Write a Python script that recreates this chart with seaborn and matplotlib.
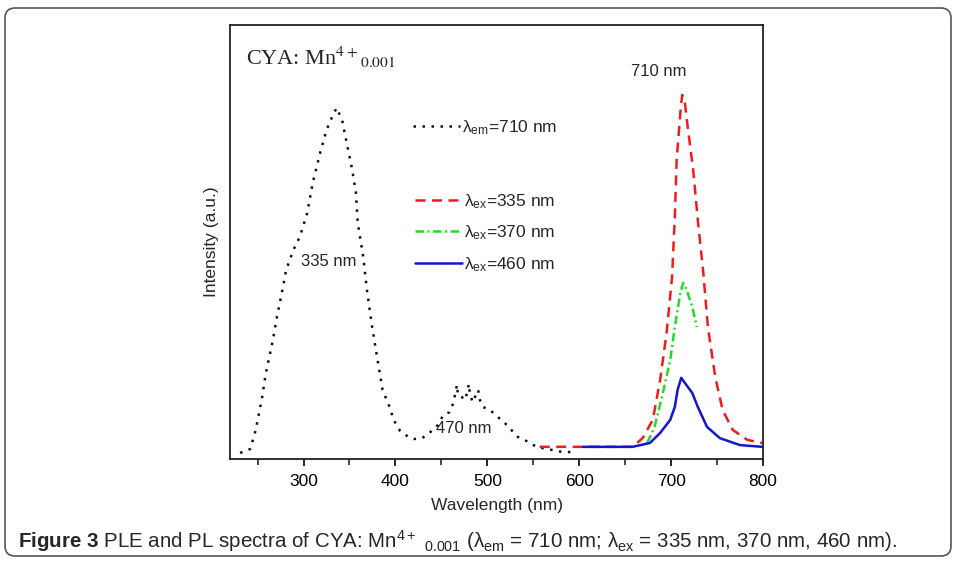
import pandas as pd
import matplotlib.pyplot as plt
import seaborn as sns
from matplotlib.lines import Line2D
from matplotlib.patches import FancyBboxPatch
from matplotlib.transforms import IdentityTransform

# PLE spectrum (lambda_em = 710 nm)
ple_wl = [231, 242, 248, 255, 259, 266, 271, 277, 281, 289, 296, 304, 310, 318, 325,
          331, 336, 342, 347, 353, 357, 359, 365, 369, 374, 380, 386, 394, 398, 405,
          414, 420, 429, 438, 446, 452, 459, 463, 467, 468, 472, 476, 480, 481, 484,
          490, 492, 495, 503, 509, 519, 527, 533, 543, 550, 560, 570, 582, 592]
ple_int = [1.4, 2.3, 6.7, 14.3, 19.8, 26.7, 32.7, 38.9, 43.5, 48.2, 51.2, 56.7, 63.6, 70.5, 75.8,
           78.8, 80.9, 78.1, 72.8, 66.6, 61.3, 54.4, 46.5, 38.9, 31.3, 23.5, 15.9, 11.8, 9.0, 6.5,
           5.1, 4.6, 4.8, 6.2, 7.8, 10.1, 10.8, 12.9, 17.1, 14.7, 14.3, 13.6, 17.3, 15.0, 13.1,
           15.9, 13.6, 12.0, 11.3, 10.1, 8.3, 6.5, 5.1, 4.1, 3.2, 2.5, 2.1, 1.6, 1.6]

# PL spectra
ex335_wl = [557, 600, 640, 658, 669, 680, 688, 695, 701, 704, 706, 710, 712, 715, 718,
            724, 729, 735, 740, 748, 756, 767, 783, 799]
ex335_int = [2.8, 2.8, 2.8, 2.8, 4.8, 9.0, 18.2, 29.0, 41.9, 55.8, 68.9, 79.7, 83.9, 82.0, 76.5,
             66.6, 55.1, 42.9, 30.4, 18.9, 11.3, 6.7, 4.4, 3.7]

ex370_wl = [674, 682, 691, 699, 704, 710, 713, 717, 723, 728]
ex370_int = [3.7, 7.4, 15.2, 22.8, 30.4, 38.2, 40.6, 38.9, 35.0, 30.4]

ex460_wl = [604, 630, 658, 677, 688, 699, 704, 707, 711, 715, 723, 729, 739, 753, 775, 799]
ex460_int = [2.8, 2.8, 2.8, 3.7, 6.0, 9.0, 12.0, 15.9, 18.7, 17.5, 15.2, 12.0, 7.4, 4.8, 3.2, 2.8]

series = ['em710', 'ex335', 'ex370', 'ex460']
labels = ['λ$_{\\rm em}$=710 nm', 'λ$_{\\rm ex}$=335 nm', 'λ$_{\\rm ex}$=370 nm', 'λ$_{\\rm ex}$=460 nm']
colors = {'em710': '#111111', 'ex335': '#ee1c1c', 'ex370': '#22dd22', 'ex460': '#1515d0'}
dashes = {'em710': (1, 2.6), 'ex335': (4, 2.6), 'ex370': (3.4, 1.4, 0.8, 1.4), 'ex460': ''}

frames = []
for name, wl, inten in [('em710', ple_wl, ple_int), ('ex335', ex335_wl, ex335_int),
                        ('ex370', ex370_wl, ex370_int), ('ex460', ex460_wl, ex460_int)]:
    frames.append(pd.DataFrame({'wl': wl, 'intensity': inten, 'series': name}))
data = pd.concat(frames, ignore_index=True)

sns.set_style("ticks")
plt.rcParams['font.family'] = ['Liberation Sans', 'DejaVu Sans']
plt.rcParams['mathtext.fontset'] = 'custom'
plt.rcParams['mathtext.rm'] = 'Liberation Sans'
plt.rcParams['mathtext.it'] = 'Liberation Sans:italic'
plt.rcParams['mathtext.bf'] = 'Liberation Sans:bold'

fig = plt.figure(figsize=(9.58, 5.62), dpi=100)
ax = fig.add_axes([0.2401, 0.1833, 0.5564, 0.7722])

sns.lineplot(data=data, x='wl', y='intensity', hue='series', style='series',
             palette=colors, dashes=dashes, estimator=None, linewidth=1.8,
             legend=False, ax=ax)

ax.set_xlim(220, 800)
ax.set_ylim(0, 100)
ax.set_xticks([300, 400, 500, 600, 700, 800])
ax.set_xticks([250, 350, 450, 550, 650, 750], minor=True)
ax.set_yticks([])
ax.tick_params(axis='x', which='major', direction='out', length=5, width=1.2,
               labelsize=12.5, colors='black', pad=6)
ax.tick_params(axis='x', which='minor', direction='out', length=4, width=1.2)
for s in ax.spines.values():
    s.set_color('#222222')
    s.set_linewidth(1.3)

ax.set_xlabel('Wavelength (nm)', fontsize=12.5, labelpad=6)
ax.set_ylabel('Intensity (a.u.)', fontsize=12.5, labelpad=8)

# annotations
ax.text(686, 89.2, '710 nm', ha='center', va='center', fontsize=12)
ax.text(327, 45.5, '335 nm', ha='center', va='center', fontsize=12)
ax.text(474, 7.1, '470 nm', ha='center', va='center', fontsize=12)
ax.text(0.03, 0.925, 'CYA: Mn$^{4+}{}_{0.001}$', transform=ax.transAxes,
        family='Liberation Serif', math_fontfamily='stix', fontsize=16, va='center')

# legends
h = [Line2D([], [], color=colors[s], dashes=dashes[s] if dashes[s] else (None, None),
            linestyle='-' if dashes[s] == '' else '--', linewidth=1.8) for s in series]
leg1 = ax.legend(h[:1], labels[:1], loc='center left', bbox_to_anchor=(0.343, 0.763),
                 frameon=False, fontsize=12.5, handlelength=2.7, handletextpad=0.15,
                 borderpad=0, borderaxespad=0)
ax.add_artist(leg1)
ax.legend(h[1:], labels[1:], loc='center left', bbox_to_anchor=(0.347, 0.521),
          frameon=False, fontsize=12.5, handlelength=2.7, handletextpad=0.15,
          borderpad=0, borderaxespad=0, labelspacing=0.75)

# caption
fig.text(18 / 958, 1 - 541 / 562,
         r'$\bf{Figure\ 3}$ PLE and PL spectra of CYA: Mn$^{4+}$ $_{0.001}$ '
         r'(λ$_{\rm em}$ = 710 nm; λ$_{\rm ex}$ = 335 nm, 370 nm, 460 nm).',
         fontsize=14.8, va='center', ha='left')

# rounded frame around figure
frame = FancyBboxPatch((5, 6), 946, 548, boxstyle='round,pad=0,rounding_size=10',
                       transform=IdentityTransform(), fill=False, edgecolor='#555555',
                       linewidth=1.2)
fig.patches.append(frame)

fig.savefig('out.png', dpi=100)
